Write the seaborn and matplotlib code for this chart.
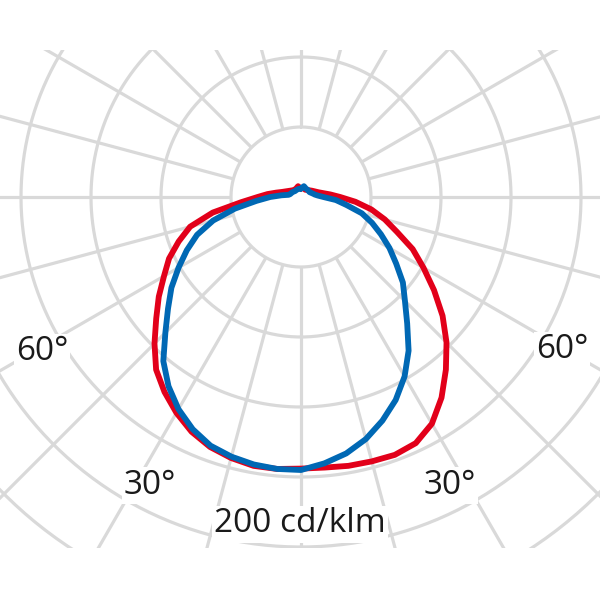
import numpy as np
import pandas as pd
import seaborn as sns
import matplotlib.pyplot as plt
from matplotlib.patches import Rectangle

# Полярна діаграма сили світла (cd/klm), кут від надиру, додатний вправо
angles = [-180, -165, -150, -135, -120, -105, -100, -95, -90, -85, -80, -75, -70,
          -65, -60, -55, -50, -45, -40, -35, -30, -25, -20, -15, -10, -5,
          0, 5, 10, 15, 20, 25, 30, 35, 40, 45, 50, 55, 60, 65, 70, 75, 80,
          85, 90, 95, 100, 105, 120, 135, 150, 165, 180]
red_cd = [6, 8, 7, 7, 9, 14, 18, 24, 31, 43, 64, 82, 93,
          104, 113, 124, 135, 148, 161, 170, 178, 185, 190, 193, 195, 195,
          194, 194, 195, 195.5, 196, 194, 187, 175, 161, 147, 132, 116, 101, 88, 73, 62, 51,
          39, 28, 21, 16, 13, 9, 7, 6, 7, 6]
blue_cd = [6, 6, 6, 6, 7, 8, 9, 14, 22, 32, 48, 65, 79,
           90, 101, 113, 124, 137, 153, 165, 175, 183, 189, 192, 194, 195,
           195, 191, 186, 179, 170, 160, 148, 134, 118, 105, 95, 83, 73, 63, 54, 45, 33,
           25, 16, 12, 10, 9, 7, 7, 7, 8, 6]

ring_values = [50, 100, 150, 200, 250, 300, 350]
spoke_angles = list(range(0, 360, 15))

angle_labels = ["60°", "60°", "30°", "30°"]
scale_label = "200 cd/klm"

sns.set_style("white")
plt.rcParams['font.family'] = ['Open Sans', 'DejaVu Sans']

# масштаб: 1.4 px на 1 cd/klm, центр у пікселі (301, 197)
px = 1.4
cx, cy = 301, 197


def to_data(xp, yp):
    return (xp - cx) / px, (cy - yp) / px


fig = plt.figure(figsize=(6, 6), dpi=100)
ax = fig.add_axes([0, 0, 1, 1])
ax.set_xlim(-cx / px, (600 - cx) / px)
ax.set_ylim(-(600 - cy) / px, cy / px)
ax.set_axis_off()

# прямокутник обрізання сітки
y_top = (cy - 50) / px
y_bot = (cy - 548) / px
clip = Rectangle((-cx / px, y_bot), 600 / px, y_top - y_bot,
                 transform=ax.transData, facecolor='none', edgecolor='none')
ax.add_patch(clip)

grid_color = '#d9d9d9'
t = np.linspace(0, 2 * np.pi, 400)
for r in ring_values:
    ln, = ax.plot(r * np.sin(t), r * np.cos(t), color=grid_color, lw=2.3, zorder=1)
    ln.set_clip_path(clip)
for a in spoke_angles:
    rad = np.deg2rad(a)
    ln, = ax.plot([50 * np.sin(rad), 420 * np.sin(rad)],
                  [-50 * np.cos(rad), -420 * np.cos(rad)],
                  color=grid_color, lw=2.3, zorder=1, solid_capstyle='butt')
    ln.set_clip_path(clip)


def curve(values):
    g = np.deg2rad(angles)
    v = np.array(values, dtype=float)
    return pd.DataFrame({"x": v * np.sin(g), "y": -v * np.cos(g)})


red = curve(red_cd)
blue = curve(blue_cd)
sns.lineplot(data=red, x="x", y="y", sort=False, estimator=None,
             color='#e2001a', lw=4.2, ax=ax, zorder=3)
sns.lineplot(data=blue, x="x", y="y", sort=False, estimator=None,
             color='#0068b4', lw=4.2, ax=ax, zorder=4)
for ln in ax.lines[-2:]:
    ln.set_solid_joinstyle('round')
    ln.set_solid_capstyle('round')

box = dict(facecolor='white', edgecolor='none', pad=1.5)
label_pos = [(42, 352), (562, 350), (150, 485), (450, 485)]
for txt, (xp, yp) in zip(angle_labels, label_pos):
    ax.text(*to_data(xp, yp), txt, ha='center', va='center',
            fontsize=24, color='#1a1a1a', bbox=box, zorder=5)
ax.text(*to_data(300, 524), scale_label, ha='center', va='center',
        fontsize=24, color='#1a1a1a', bbox=box, zorder=5)

fig.savefig("out.png", dpi=100)
